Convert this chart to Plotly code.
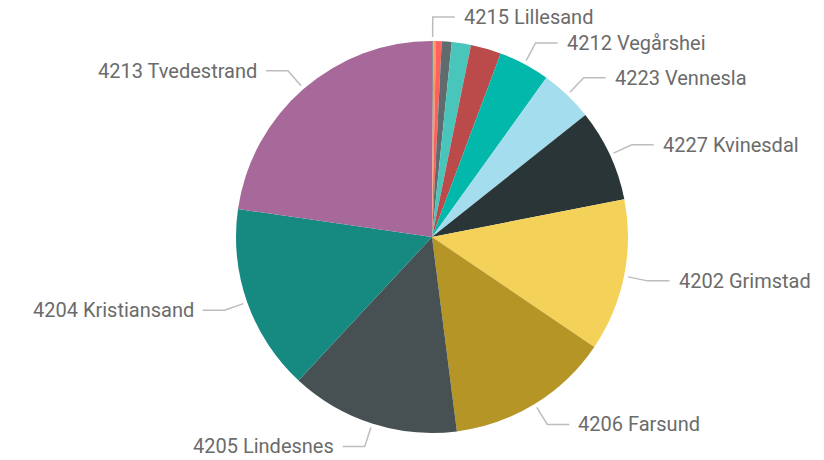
import math
import plotly.graph_objects as go

# Data (shares, in degrees of the full circle)
labels = ["4215 Lillesand", "4218 Iveland", "4214 Froland", "4211 Gjerstad", "4217 Åmli",
          "4201 Risør", "4212 Vegårshei", "4223 Vennesla", "4227 Kvinesdal", "4202 Grimstad",
          "4206 Farsund", "4205 Lindesnes", "4204 Kristiansand", "4213 Tvedestrand"]
values = [0.38, 0.8, 1.67, 2.95, 5.7, 9.0, 15.2, 15.8, 27.4, 45.2, 48.6, 50.2, 55.3, 81.8]
show_label = [True, False, False, False, False, False, True, True, True, True, True, True, True, True]
colors = ["#8E9090", "#FE9666", "#FD625E", "#5F6B6D", "#4AC5BB", "#BB4A4A", "#01B8AA",
          "#A4DDEE", "#293537", "#F4D25A", "#B59525", "#475052", "#168980", "#A66999"]

W, H = 824, 460
CX, CY, R = 432, 237, 196

fig = go.Figure(go.Pie(
    labels=labels, values=values, sort=False, direction="clockwise", rotation=0,
    textinfo="none", marker=dict(colors=colors, line=dict(width=0)),
    domain=dict(x=[(CX - R) / W, (CX + R) / W], y=[1 - (CY + R) / H, 1 - (CY - R) / H]),
    showlegend=False,
))

total = sum(values)
cum = 0.0
shapes = []
annotations = []
for lab, v, show in zip(labels, values, show_label):
    mid = (cum + v / 2) / total * 2 * math.pi
    cum += v
    if not show:
        continue
    s, c = math.sin(mid), math.cos(mid)
    x1, y1 = CX + (R + 4) * s, CY - (R + 4) * c
    x2, y2 = CX + (R + 24) * s, CY - (R + 24) * c
    side = 1 if s >= -1e-6 else -1
    x3 = x2 + side * 22
    shapes.append(dict(type="path", xref="paper", yref="paper",
                       path=f"M {x1/W},{1-y1/H} L {x2/W},{1-y2/H} L {x3/W},{1-y2/H}",
                       line=dict(color="#BDBDBD", width=1.5)))
    annotations.append(dict(x=(x3 + side * 7) / W, y=1 - y2 / H, xref="paper", yref="paper",
                            text=lab, showarrow=False,
                            xanchor="left" if side > 0 else "right", yanchor="middle",
                            font=dict(family="Roboto", size=20, color="#6B6B6B")))

fig.update_layout(width=W, height=H, margin=dict(l=0, r=0, t=0, b=0),
                  paper_bgcolor="white", plot_bgcolor="white",
                  shapes=shapes, annotations=annotations)
fig.write_html("out.html", config={"displayModeBar": False},
               post_script="document.body.style.margin='0';")
